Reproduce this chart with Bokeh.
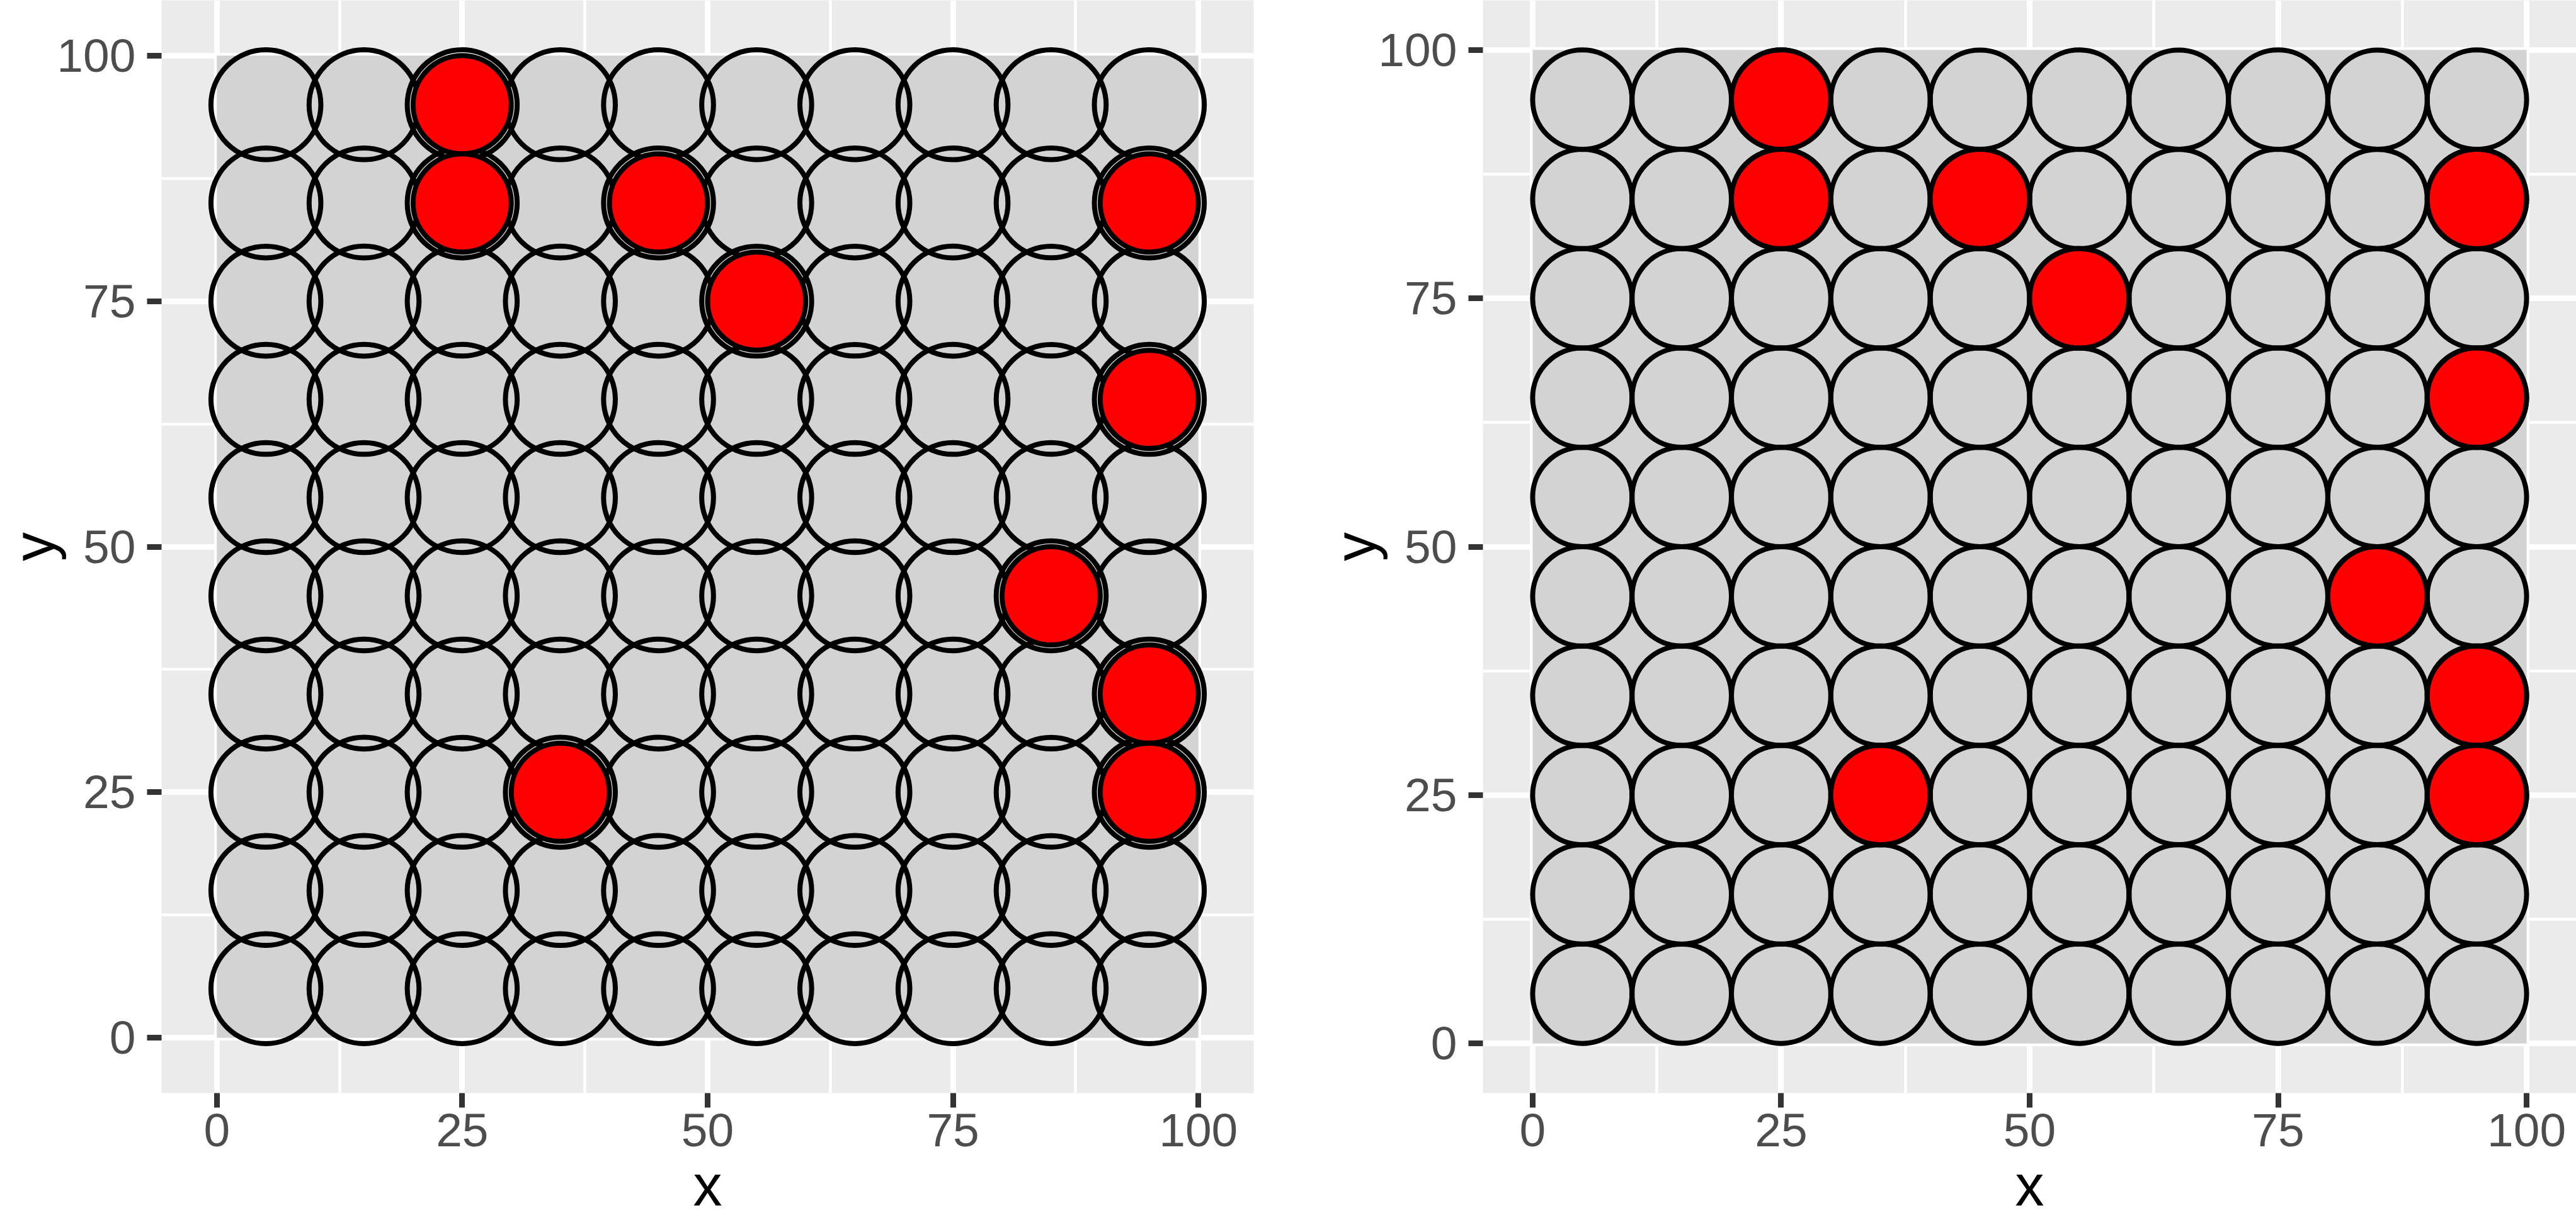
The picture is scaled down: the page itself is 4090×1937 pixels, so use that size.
import numpy as np
from bokeh.plotting import figure
from bokeh.layouts import row
from bokeh.models import Range1d, FixedTicker, ColumnDataSource
from bokeh.embed import file_html
from bokeh.resources import INLINE

# ---- data ----
grid_x = [5, 15, 25, 35, 45, 55, 65, 75, 85, 95]
grid_y = [5, 15, 25, 35, 45, 55, 65, 75, 85, 95]
red_x = [25, 25, 45, 95, 55, 95, 85, 95, 35, 95]
red_y = [95, 85, 85, 85, 75, 65, 45, 35, 25, 25]
area_limits = [0, 100]
tick_values = [0, 25, 50, 75, 100]
minor_values = [12.5, 37.5, 62.5, 87.5]
left_radius_grey = 5.6
left_radius_red = 5.0
right_radius_grey = 5.0
right_radius_red = 5.0
left_range = [-5.63, 105.63]
right_range = [-5.0, 105.0]

gx, gy = np.meshgrid(grid_x, grid_y)
grey_src = dict(x=gx.ravel().tolist(), y=gy.ravel().tolist())
red_src = dict(x=red_x, y=red_y)

FONT = "Liberation Sans"
PANEL_BG = "#EBEBEB"
AREA = "#D3D3D3"


def make_panel(r_grey, r_red, rng, border_left, border_right, width):
    p = figure(width=width, height=1937, output_backend="svg", toolbar_location=None,
               x_range=Range1d(*rng), y_range=Range1d(*rng),
               min_border_left=border_left, min_border_right=border_right,
               min_border_top=0, min_border_bottom=202,
               x_axis_label="x", y_axis_label="y")
    p.background_fill_color = PANEL_BG
    p.border_fill_color = "white"
    p.outline_line_color = None

    tk = FixedTicker(ticks=tick_values, minor_ticks=minor_values)
    for ax in (p.xaxis[0], p.yaxis[0]):
        ax.ticker = tk
        ax.axis_line_color = None
        ax.major_tick_line_color = "#333333"
        ax.major_tick_line_width = 9
        ax.major_tick_in = 0
        ax.major_tick_out = 23
        ax.minor_tick_line_color = None
        ax.major_label_text_font = FONT
        ax.major_label_text_font_size = "75px"
        ax.major_label_text_color = "#4D4D4D"
        ax.axis_label_text_font = FONT
        ax.axis_label_text_font_size = "92px"
        ax.axis_label_text_font_style = "normal"
        ax.axis_label_text_color = "black"
    p.xaxis.major_label_standoff = 10
    p.yaxis.major_label_standoff = 18
    p.xaxis.axis_label_standoff = 8
    p.yaxis.axis_label_standoff = -18
    for g in (p.xgrid[0], p.ygrid[0]):
        g.ticker = tk
        g.grid_line_color = "white"
        g.grid_line_width = 9
        g.minor_grid_line_color = "white"
        g.minor_grid_line_width = 4.5

    p.quad(left=area_limits[0], right=area_limits[1], bottom=area_limits[0], top=area_limits[1],
           fill_color=AREA, line_color=None)
    p.circle(x="x", y="y", radius=r_grey, source=ColumnDataSource(grey_src),
             fill_alpha=0, line_color="black", line_width=8)
    p.circle(x="x", y="y", radius=r_red, source=ColumnDataSource(red_src),
             fill_color="#FF0000", line_color="black", line_width=8)
    return p


p1 = make_panel(left_radius_grey, left_radius_red, left_range, 254, 55, 2045)
p2 = make_panel(right_radius_grey, right_radius_red, right_range, 309, 0, 2045)
layout = row(p1, p2, spacing=0)
open("out.html", "w").write(file_html(layout, INLINE))
